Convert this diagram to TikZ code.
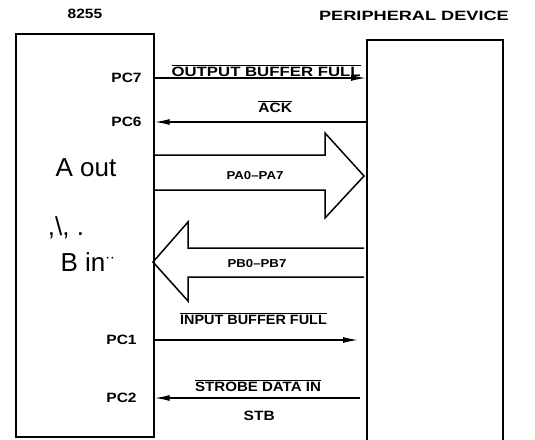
\documentclass[tikz,border=0pt]{standalone}
\usepackage{fontspec}
\setsansfont{Liberation Sans}
\usetikzlibrary{arrows.meta}

\begin{document}
\begin{tikzpicture}[x=1pt,y=-1pt,
    box/.style={draw,line width=1.7pt,anchor=north west,inner sep=0pt},
    lbl/.style={font=\sffamily\bfseries\fontsize{13.5}{14}\selectfont,xscale=1.15,inner sep=1pt},
    small/.style={lbl,font=\sffamily\bfseries\fontsize{11.5}{12}\selectfont},
    pin/.style={lbl,anchor=east},
    sig/.style={line width=1.4pt,-{Latex[length=15pt,width=6pt]}},
    bus/.style={line width=1.5pt,line join=miter},
    hand/.style={font=\sffamily\fontsize{26}{28}\selectfont}]
  \useasboundingbox (0,0) rectangle (535,439);
  % the two blocks (the device box runs off the bottom)
  \node[box,minimum width=138pt,minimum height=403pt] (ic) at (15,33) {};
  \node[box,minimum width=136pt,minimum height=430pt] (dev) at (366,39) {};
  \node[lbl] (t8255) at (85,14) {8255};
  \node[lbl,xscale=1.17] (tdev) at (414,16) {PERIPHERAL DEVICE};
  % port C pins
  \node[pin] (pc7) at (143,78) {PC7};
  \node[pin] (pc6) at (143,122) {PC6};
  \node[pin] (pc1) at (138,340) {PC1};
  \node[pin] (pc2) at (138,398) {PC2};
  % handshake lines
  \draw[sig] (ic.east |- pc7) -- node[lbl,above=0pt,xshift=5pt,xscale=1.08]{$\overline{\mbox{OUTPUT BUFFER FULL}}$} (dev.west |- pc7);
  \draw[sig] (dev.west |- pc6) -- node[lbl,above=8pt,xshift=13pt]{$\overline{\mbox{ACK}}$} (ic.east |- pc6);
  \draw[sig,shorten >=8pt] (ic.east |- pc1) -- node[lbl,above=14pt,xshift=-6pt,xscale=0.93]{$\overline{\mbox{INPUT BUFFER FULL}}$} (dev.west |- pc1);
  \draw[sig,shorten <=6pt] (dev.west |- pc2) -- node[lbl,above=5pt,xshift=-2pt,xscale=0.97]{$\overline{\mbox{STROBE DATA IN}}$}
    node[lbl,below=11pt,xshift=-1pt]{STB} (ic.east |- pc2);
  % port A out, port B in
  \draw[bus] (154,155) -- (325,155) -- (325,133) -- (364,176) -- (325,218) -- (325,190) -- (154,190);
  \node[small] (pa) at (255,176) {PA0--PA7};
  \draw[bus] (364,248) -- (188,248) -- (188,222) -- (153,262) -- (188,301) -- (188,277) -- (364,277);
  \node[small] (pb) at (257,264) {PB0--PB7};
  % pencil notes
  \node[hand] (aout) at (86,168) {A out};
  \node[hand] (ditto) at (66,228) {,\textbackslash, .};
  \node[hand] (bin) at (88,262) {B in$^{\cdot\cdot}$};
\end{tikzpicture}
\end{document}
